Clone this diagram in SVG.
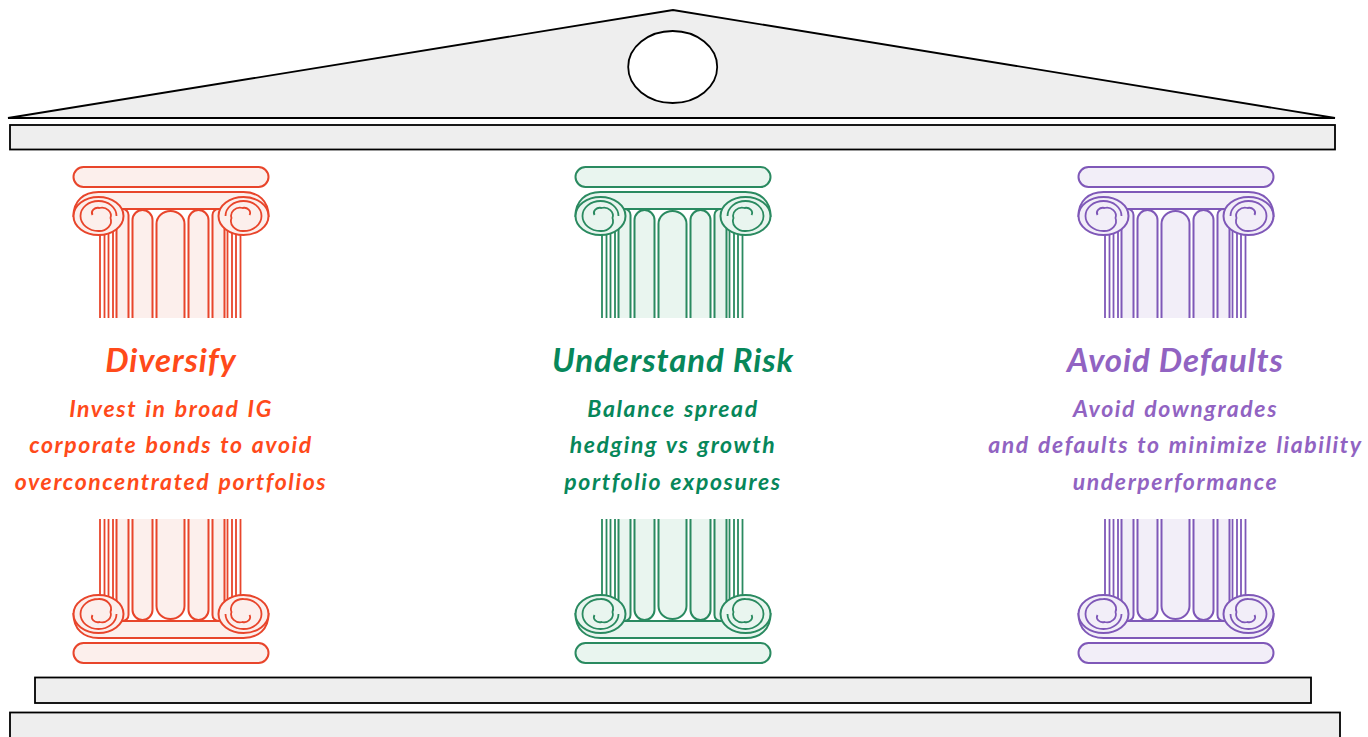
<svg xmlns="http://www.w3.org/2000/svg" xmlns:xlink="http://www.w3.org/1999/xlink" width="1368" height="737" viewBox="0 0 1368 737">
<style>
.bld{fill:#eeeeee;stroke:#000;stroke-width:1.8}
.cs{stroke:currentColor;stroke-width:2;fill:var(--tint)}
.cl{stroke:currentColor;stroke-width:1.8;fill:none}
.title{font-family:Lato,"Liberation Sans",sans-serif;font-weight:700;font-style:italic;font-size:33px;letter-spacing:0.9px;text-anchor:middle}
.sub{font-family:Lato,"Liberation Sans",sans-serif;font-weight:700;font-style:italic;font-size:23px;letter-spacing:1.6px;word-spacing:1.5px;text-anchor:middle}
.red{color:#e8452b;--tint:#fcefec}
.green{color:#2a8a60;--tint:#e9f5ef}
.purple{color:#7f58b8;--tint:#f2eef8}
</style>
<defs>
<path id="spiral" d="M18,0 A18,15 0 1 0 0,15 A12,10 0 0 0 12,2 A9,8 0 0 0 1,-8 A6,5 0 0 0 -6,-1"/>
<g id="capital">
  <path class="cs" d="M-97,49 C-97,34 -87,25 -72,25 H73 C88,25 98,34 98,49 L48,49 L48,42 L-47,42 L-47,49 Z"/>
  <g class="cl">
    <line x1="-70.5" y1="50" x2="-70.5" y2="151"/>
    <line x1="-66" y1="50" x2="-66" y2="151"/>
    <line x1="-62" y1="50" x2="-62" y2="151"/>
    <line x1="-57.5" y1="50" x2="-57.5" y2="151"/>
    <line x1="70" y1="50" x2="70" y2="151"/>
    <line x1="65.5" y1="50" x2="65.5" y2="151"/>
    <line x1="61.5" y1="50" x2="61.5" y2="151"/>
    <line x1="57" y1="50" x2="57" y2="151"/>
  </g>
  <path class="cs" d="M-54,151 V48 A6,6 0 0 1 -42,48 V151"/>
  <path class="cs" d="M-38,151 V53 A10,10 0 0 1 -18,53 V151"/>
  <path class="cs" d="M-14,151 V57 A14,13 0 0 1 14,57 V151"/>
  <path class="cs" d="M18,151 V53 A10,10 0 0 1 38,53 V151"/>
  <path class="cs" d="M42,151 V48 A6,6 0 0 1 54,48 V151"/>
  <g transform="translate(-72,49)">
    <ellipse class="cs" rx="25" ry="19"/>
    <use xlink:href="#spiral" class="cl"/>
  </g>
  <g transform="translate(73,49) scale(-1,1)">
    <ellipse class="cs" rx="25" ry="19"/>
    <use xlink:href="#spiral" class="cl"/>
  </g>
  <rect class="cs" x="-97" y="0" width="195" height="20" rx="10"/>
</g>
<clipPath id="baseClip" clipPathUnits="userSpaceOnUse">
  <rect x="0" y="519" width="1368" height="218"/>
</clipPath>
</defs>

<g id="roof">
  <polygon class="bld" points="8,118 673,10 1335,118"/>
  <ellipse cx="672.7" cy="67" rx="44.5" ry="36" fill="#fff" stroke="#000" stroke-width="1.8"/>
  <rect class="bld" x="10" y="125" width="1325" height="24.5"/>
</g>

<g id="foundation">
  <rect class="bld" x="35" y="677.5" width="1276" height="25.5" stroke-width="2.2"/>
  <rect class="bld" x="10" y="712.5" width="1330" height="30" stroke-width="2.2"/>
</g>

<g id="pillar-diversify" class="red">
  <use xlink:href="#capital" transform="translate(170.5,167)"/>
  <g clip-path="url(#baseClip)"><use xlink:href="#capital" transform="translate(170.5,663) scale(1,-1)"/></g>
  <text class="title" x="171" y="372" fill="#ff4a1a">Diversify</text>
  <text class="sub" x="171" y="417" fill="#ff4a1a">Invest in broad IG</text>
  <text class="sub" x="171" y="453" fill="#ff4a1a">corporate bonds to avoid</text>
  <text class="sub" x="171" y="490" fill="#ff4a1a">overconcentrated portfolios</text>
</g>

<g id="pillar-risk" class="green">
  <use xlink:href="#capital" transform="translate(672.5,167)"/>
  <g clip-path="url(#baseClip)"><use xlink:href="#capital" transform="translate(672.5,663) scale(1,-1)"/></g>
  <text class="title" x="673" y="372" fill="#07875a">Understand Risk</text>
  <text class="sub" x="673" y="417" fill="#07875a">Balance spread</text>
  <text class="sub" x="673" y="453" fill="#07875a">hedging vs growth</text>
  <text class="sub" x="673" y="490" fill="#07875a">portfolio exposures</text>
</g>

<g id="pillar-defaults" class="purple">
  <use xlink:href="#capital" transform="translate(1175.5,167)"/>
  <g clip-path="url(#baseClip)"><use xlink:href="#capital" transform="translate(1175.5,663) scale(1,-1)"/></g>
  <text class="title" x="1175.5" y="372" fill="#9163c2">Avoid Defaults</text>
  <text class="sub" x="1175.5" y="417" fill="#9163c2">Avoid downgrades</text>
  <text class="sub" x="1175.5" y="453" fill="#9163c2">and defaults to minimize liability</text>
  <text class="sub" x="1175.5" y="490" fill="#9163c2">underperformance</text>
</g>

<g id="connectors"></g>
</svg>
